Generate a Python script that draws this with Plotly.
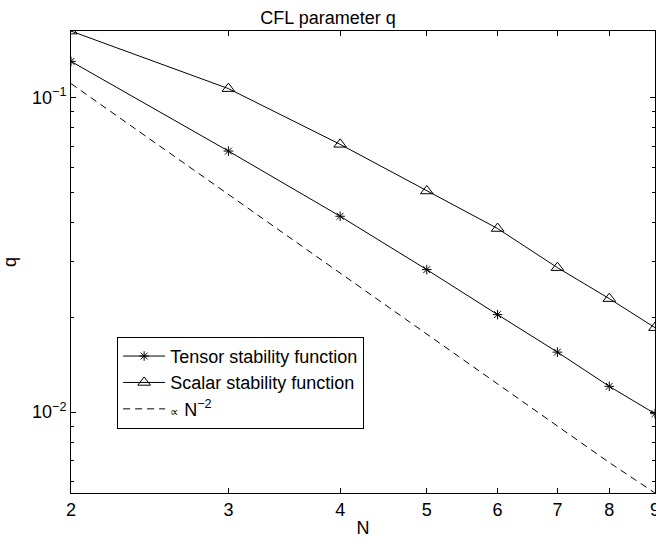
import plotly.graph_objects as go
import math

N = [2, 3, 4, 5, 6, 7, 8, 9]
tensor_q = [0.1301, 0.0675, 0.0419, 0.02835, 0.0204, 0.0155, 0.01207, 0.00988]
scalar_q = [0.1624, 0.1066, 0.0709, 0.0504, 0.0383, 0.02877, 0.02293, 0.01854]
ref_q = [0.1106, 0.0492, 0.0277, 0.0177, 0.0123, 0.00903, 0.00691, 0.00553]

x_ticks = [2, 3, 4, 5, 6, 7, 8, 9]
y_ticks = [0.01, 0.1]
y_ticktext = ["10<sup>\u22122</sup>", "10<sup>\u22121</sup>"]
y_minor = [0.006, 0.007, 0.008, 0.009, 0.02, 0.03, 0.04, 0.05, 0.06, 0.07, 0.08, 0.09]

FONT = "Liberation Sans, Arial, Helvetica, sans-serif"
FS = 18

fig = go.Figure()
fig.add_trace(go.Scatter(
    x=N, y=tensor_q, mode="lines+markers", name="Tensor stability function",
    line=dict(color="black", width=1),
    marker=dict(symbol="asterisk-open", size=8, color="black", line=dict(color="black", width=1)),
))
fig.add_trace(go.Scatter(
    x=N, y=scalar_q, mode="lines+markers", name="Scalar stability function",
    line=dict(color="black", width=1),
    marker=dict(symbol="triangle-up-open", size=11, color="black", line=dict(color="black", width=1)),
))
fig.add_trace(go.Scatter(
    x=N, y=ref_q, mode="lines", name="<span style='font-size:12px'>\u221d</span> N<sup>\u22122</sup>",
    line=dict(color="black", width=1, dash="7px,5px"),
))

fig.update_layout(
    width=656, height=540,
    margin=dict(l=71, r=1, t=31, b=47, autoexpand=False),
    paper_bgcolor="white", plot_bgcolor="white",
    font=dict(family=FONT, size=FS, color="black"),
    title=dict(text="CFL parameter q", x=0.5, xanchor="center", y=0.978, yanchor="top",
               font=dict(family=FONT, size=FS, color="black")),
    showlegend=True,
    legend=dict(x=0.079, y=0.338, xanchor="left", yanchor="top",
                bordercolor="black", borderwidth=1, bgcolor="white",
                font=dict(family=FONT, size=FS, color="black"),
                itemwidth=42, tracegroupgap=0),
    xaxis=dict(
        type="log", range=[math.log10(2), math.log10(9)],
        tickmode="array", tickvals=x_ticks, ticktext=[str(v) for v in x_ticks],
        ticks="inside", ticklen=5, tickcolor="black", tickwidth=1,
        ticklabeloverflow="allow", automargin=False,
        showline=True, linecolor="black", linewidth=1, mirror="ticks",
        showgrid=False, zeroline=False,
        title=dict(text="N", standoff=2, font=dict(family=FONT, size=FS)),
    ),
    yaxis=dict(
        type="log", range=[math.log10(0.00553), math.log10(0.1625)],
        tickmode="array", tickvals=y_ticks, ticktext=y_ticktext,
        ticks="inside", ticklen=5, tickcolor="black", tickwidth=1,
        automargin=False,
        showline=True, linecolor="black", linewidth=1, mirror="ticks",
        showgrid=False, zeroline=False,
        minor=dict(tickvals=y_minor, ticks="inside", ticklen=3, tickcolor="black", showgrid=False),
        title=dict(text="q", standoff=12, font=dict(family=FONT, size=FS)),
    ),
)

fig.write_html("out.html")
